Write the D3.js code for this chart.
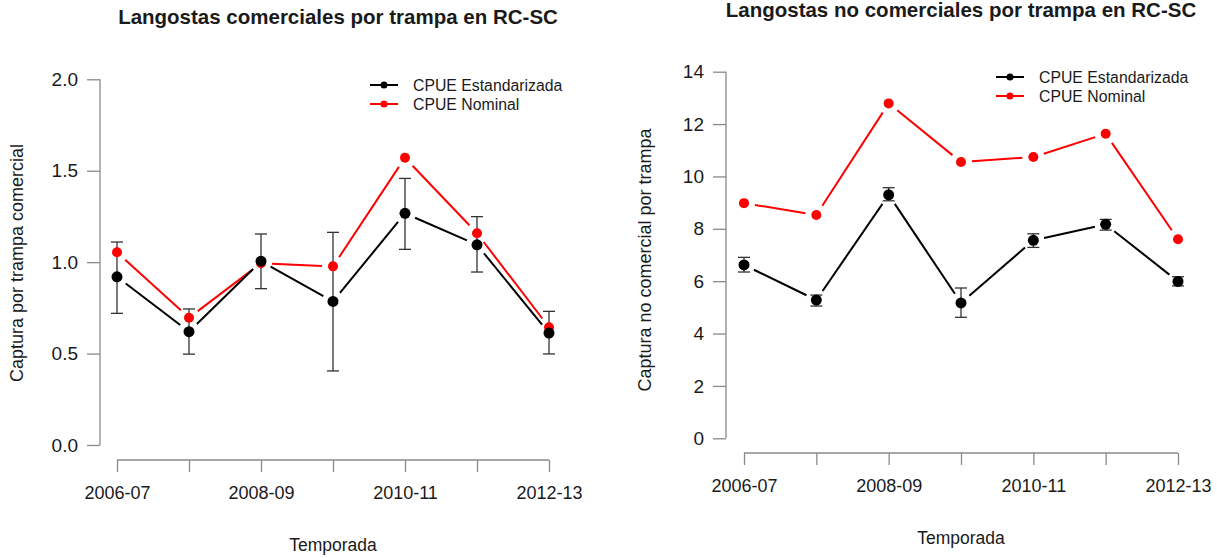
<!DOCTYPE html>
<html>
<head>
<meta charset="utf-8">
<script src="https://cdn.jsdelivr.net/npm/d3@7"></script>
<style>
  body { margin: 0; background: #fff; }
  svg text { font-family: "Liberation Sans", Arial, sans-serif; fill: #1a1a1a; }
</style>
</head>
<body>
<div id="chart"></div>
<script>
// seasons on the x axis (only every other one gets a label)
var seasons = ["2006-07", "2007-08", "2008-09", "2009-10", "2010-11", "2011-12", "2012-13"];

// left panel: commercial lobsters per trap
var comStd   = [0.92, 0.62, 1.005, 0.785, 1.267, 1.095, 0.612];
var comStdLo = [0.72, 0.497, 0.855, 0.405, 1.07, 0.946, 0.498];
var comStdHi = [1.11, 0.744, 1.154, 1.163, 1.458, 1.249, 0.731];
var comNom   = [1.054, 0.696, 0.994, 0.977, 1.571, 1.158, 0.644];
var comTicks = [0, 0.5, 1, 1.5, 2];

// right panel: non-commercial lobsters per trap
var noStd   = [6.62, 5.28, 9.30, 5.17, 7.56, 8.17, 5.99];
var noStdLo = [6.35, 5.05, 9.07, 4.62, 7.29, 7.95, 5.82];
var noStdHi = [6.91, 5.47, 9.57, 5.74, 7.81, 8.36, 6.17];
var noNom   = [8.98, 8.53, 12.79, 10.55, 10.74, 11.63, 7.60];
var noTicks = [0, 2, 4, 6, 8, 10, 12, 14];

var legendNames = ["CPUE Estandarizada", "CPUE Nominal"];

var svg = d3.select("#chart").append("svg")
  .attr("width", 1217)
  .attr("height", 558);

function panel(p) {
  var g = svg.append("g");

  var x = d3.scalePoint().domain(seasons).range([p.x0, p.x1]);
  var y = d3.scaleLinear().domain([p.ticks[0], p.ticks[p.ticks.length - 1]]).range([p.yBottom, p.yTop]);

  // title
  g.append("text")
    .attr("x", p.titleX).attr("y", p.titleY)
    .attr("text-anchor", "middle")
    .style("font-size", "20.5px").style("font-weight", "bold")
    .text(p.title);

  // y axis
  var ya = g.append("g")
    .attr("transform", "translate(" + p.axisX + ",0)")
    .call(d3.axisLeft(y).tickValues(p.ticks).tickSize(13).tickPadding(9).tickFormat(p.fmt));
  ya.select(".domain").attr("stroke", "#8a8a8a").attr("stroke-width", 1.3).attr("d", "M0," + y.range()[1] + "V" + y.range()[0]);
  ya.selectAll(".tick line").attr("stroke", "#8a8a8a").attr("stroke-width", 1.3);
  ya.selectAll(".tick text").style("font-size", "19px").attr("fill", "#1a1a1a");

  // x axis
  var xa = g.append("g")
    .attr("transform", "translate(0," + p.axisY + ")")
    .call(d3.axisBottom(x).tickSize(12).tickPadding(14)
      .tickFormat(function(d, i) { return i % 2 == 0 ? d : ""; }));
  xa.select(".domain").attr("stroke", "#8a8a8a").attr("stroke-width", 1.3).attr("d", "M" + p.x0 + ",0H" + p.x1);
  xa.selectAll(".tick line").attr("stroke", "#8a8a8a").attr("stroke-width", 1.3);
  xa.selectAll(".tick text").style("font-size", "18px").attr("fill", "#1a1a1a");

  // axis titles
  g.append("text")
    .attr("x", (p.x0 + p.x1) / 2).attr("y", p.xLabY)
    .attr("text-anchor", "middle")
    .style("font-size", "17.5px")
    .text("Temporada");
  g.append("text")
    .attr("transform", "translate(" + p.yLabX + "," + p.yLabY + ") rotate(-90)")
    .attr("text-anchor", "middle")
    .style("font-size", "18px")
    .text(p.yLabel);

  // R type="b" lines: segments with a gap round every point
  function gapLine(vals, color) {
    var pts = vals.map(function(v, i) { return [x(seasons[i]), y(v)]; });
    var segs = d3.pairs(pts).map(function(pr) {
      var dx = pr[1][0] - pr[0][0], dy = pr[1][1] - pr[0][1];
      var len = Math.sqrt(dx * dx + dy * dy), gap = 11 / len;
      return [[pr[0][0] + dx * gap, pr[0][1] + dy * gap], [pr[1][0] - dx * gap, pr[1][1] - dy * gap]];
    });
    g.selectAll(null).data(segs).enter().append("line")
      .attr("x1", function(d) { return d[0][0]; }).attr("y1", function(d) { return d[0][1]; })
      .attr("x2", function(d) { return d[1][0]; }).attr("y2", function(d) { return d[1][1]; })
      .attr("stroke", color).attr("stroke-width", 2);
  }

  // error bars
  var bars = g.append("g").attr("stroke", "#333").attr("stroke-width", 1.3);
  seasons.forEach(function(s, i) {
    var cx = x(s);
    bars.append("line").attr("x1", cx).attr("x2", cx).attr("y1", y(p.lo[i])).attr("y2", y(p.hi[i]));
    bars.append("line").attr("x1", cx - 6).attr("x2", cx + 6).attr("y1", y(p.lo[i])).attr("y2", y(p.lo[i]));
    bars.append("line").attr("x1", cx - 6).attr("x2", cx + 6).attr("y1", y(p.hi[i])).attr("y2", y(p.hi[i]));
  });

  gapLine(p.nom, "#ff0000");
  g.selectAll(null).data(p.nom).enter().append("circle")
    .attr("cx", function(d, i) { return x(seasons[i]); })
    .attr("cy", function(d) { return y(d); })
    .attr("r", 5).attr("fill", "#ff0000");

  gapLine(p.std, "#000");
  g.selectAll(null).data(p.std).enter().append("circle")
    .attr("cx", function(d, i) { return x(seasons[i]); })
    .attr("cy", function(d) { return y(d); })
    .attr("r", 5.5).attr("fill", "#000");

  // legend
  var colors = ["#000", "#ff0000"];
  legendNames.forEach(function(name, i) {
    var ly = p.legY + i * 19;
    g.append("line").attr("x1", p.legX).attr("x2", p.legX + 28).attr("y1", ly).attr("y2", ly)
      .attr("stroke", colors[i]).attr("stroke-width", 2);
    g.append("circle").attr("cx", p.legX + 14).attr("cy", ly).attr("r", 3.5).attr("fill", colors[i]);
    g.append("text").attr("x", p.legX + 43).attr("y", ly + 5.5)
      .style("font-size", "15.8px").text(name);
  });
}

panel({
  title: "Langostas comerciales por trampa en RC-SC", titleX: 338, titleY: 24,
  yLabel: "Captura por trampa comercial", yLabX: 23, yLabY: 263,
  x0: 117, x1: 549, axisX: 100, axisY: 460, yTop: 79.3, yBottom: 445,
  xLabY: 551, ticks: comTicks, fmt: d3.format(".1f"),
  std: comStd, lo: comStdLo, hi: comStdHi, nom: comNom,
  legX: 370, legY: 85
});

panel({
  title: "Langostas no comerciales por trampa en RC-SC", titleX: 961, titleY: 17,
  yLabel: "Captura no comercial por trampa", yLabX: 651, yLabY: 260,
  x0: 744, x1: 1178, axisX: 726, axisY: 453, yTop: 71.7, yBottom: 438.3,
  xLabY: 544, ticks: noTicks, fmt: d3.format("d"),
  std: noStd, lo: noStdLo, hi: noStdHi, nom: noNom,
  legX: 996, legY: 77
});
</script>
</body>
</html>
